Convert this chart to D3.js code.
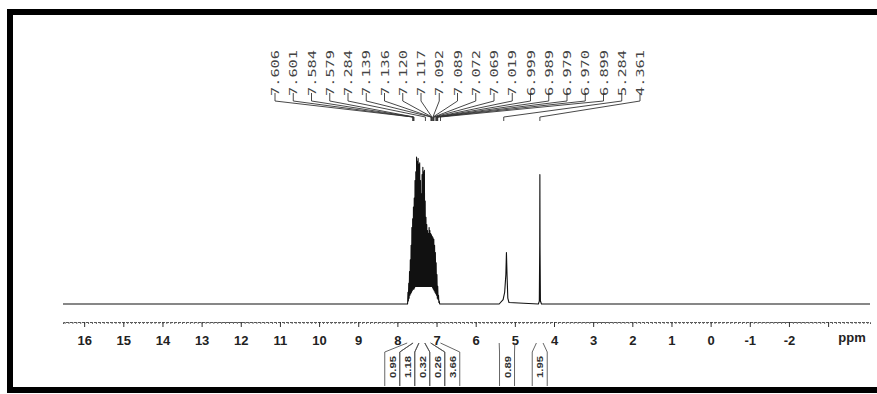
<!DOCTYPE html>
<html>
<head>
<meta charset="utf-8">
<script src="https://cdn.jsdelivr.net/npm/d3@7/dist/d3.min.js"></script>
<style>
  html, body { margin: 0; padding: 0; background: #fff; overflow: hidden; }
  svg { display: block; overflow: hidden; }
</style>
</head>
<body>
<svg id="chart" width="877" height="394"></svg>
<script>
// peak pick labels as printed across the top (ppm)
const peakLabels = ["7.606", "7.601", "7.584", "7.579", "7.284", "7.139", "7.136", "7.120", "7.117",
  "7.092", "7.089", "7.072", "7.069", "7.019", "6.999", "6.989", "6.979", "6.970", "6.899", "5.284", "4.361"];

// spectrum trace: shift (ppm) and relative intensity
const tracePpm = [16.54,
  7.74, 7.73, 7.72, 7.71, 7.70, 7.69, 7.68, 7.67, 7.66, 7.65, 7.64, 7.63, 7.62, 7.61, 7.60, 7.59,
  7.58, 7.57, 7.56, 7.55, 7.54, 7.53, 7.52, 7.51, 7.50, 7.49, 7.48, 7.47, 7.46, 7.45, 7.44, 7.43,
  7.42, 7.41, 7.40, 7.39, 7.38, 7.37, 7.36, 7.35, 7.34, 7.33, 7.32, 7.31, 7.30, 7.29, 7.28, 7.27,
  7.26, 7.25, 7.24, 7.23, 7.22, 7.21, 7.20, 7.19, 7.18, 7.17, 7.16, 7.15, 7.14, 7.13, 7.12, 7.11,
  7.10, 7.09, 7.08, 7.07, 7.06, 7.05, 7.04, 7.03, 7.02, 7.01, 7.00, 6.99, 6.98, 6.97, 6.96, 6.95,
  6.94, 6.93, 6.92,
  5.40, 5.30, 5.26, 5.23, 5.215, 5.20, 5.18, 5.15,
  4.40, 4.375, 4.365, 4.361, 4.357, 4.347, 4.32,
  -4.07];
const traceInt = [0,
  0, 8, 2, 14, 4, 22, 6, 30, 7, 40, 8, 52, 9, 58, 10, 66,
  10, 72, 11, 84, 12, 90, 12, 100, 12, 97, 12, 99, 12, 95, 12, 96,
  12, 84, 12, 75, 12, 88, 12, 93, 12, 90, 12, 91, 12, 70, 12, 59,
  12, 54, 12, 50, 12, 48, 12, 52, 12, 50, 12, 48, 12, 47, 12, 46,
  11, 45, 10, 44, 9, 40, 8, 35, 7, 28, 6, 20, 4, 12, 3, 6,
  1, 2, 0,
  0, 3, 8, 20, 35, 20, 4, 1,
  0, 2, 40, 88, 40, 2, 0,
  0];

// integrals under the axis
const integralValues = ["0.95", "1.18", "0.32", "0.26", "3.66", "0.89", "1.95"];
const integralFrom = [7.75, 7.60, 7.45, 7.30, 7.15, 5.40, 4.45];
const integralTo   = [7.60, 7.45, 7.30, 7.15, 6.90, 5.00, 4.28];

// axis ticks
const majorTicks = [16, 15, 14, 13, 12, 11, 10, 9, 8, 7, 6, 5, 4, 3, 2, 1, 0, -1, -2, -3];
const tickLabels = [16, 15, 14, 13, 12, 11, 10, 9, 8, 7, 6, 5, 4, 3, 2, 1, 0, -1, -2];

const svg = d3.select("#chart");
const baseY = 304, axisY = 322;

const x = d3.scaleLinear().domain([16.54, -4.07]).range([63, 870]);
const y = d3.scaleLinear().domain([0, 100]).range([baseY, 157]);

// frame (its right side runs off the picture)
svg.append("path").attr("d", "M877,12H10V390H877")
  .attr("fill", "none").attr("stroke", "#000").attr("stroke-width", 6);

// spectrum
const trace = tracePpm.map((p, i) => [p, traceInt[i]]);
svg.append("path")
  .datum(trace)
  .attr("fill", "none")
  .attr("stroke", "#111")
  .attr("stroke-width", 1.1)
  .attr("stroke-linejoin", "round")
  .attr("d", d3.line().x(d => x(d[0])).y(d => y(d[1])));

// ruler: minor then major ticks
const minorAxis = d3.axisBottom(x)
  .tickValues(d3.range(-40, 166).map(v => v / 10))
  .tickSize(2).tickFormat("");
svg.append("g").attr("transform", `translate(0,${axisY})`).call(minorAxis)
  .call(g => g.selectAll("line").attr("stroke", "#666"))
  .call(g => g.select(".domain").attr("stroke", "#555").attr("stroke-dasharray", "3,1"));

const majorAxis = d3.axisBottom(x)
  .tickValues(majorTicks).tickSize(5).tickPadding(9)
  .tickFormat(d => tickLabels.includes(d) ? d : "");
svg.append("g").attr("transform", `translate(0,${axisY})`).call(majorAxis)
  .call(g => g.select(".domain").remove())
  .call(g => g.selectAll("line").attr("stroke", "#333"))
  .call(g => g.selectAll("text")
    .attr("font-family", "Liberation Sans, Arial, sans-serif")
    .attr("font-weight", "bold").attr("font-size", 13).attr("fill", "#222"));

svg.append("text").attr("x", 852).attr("y", 342).attr("text-anchor", "middle")
  .attr("font-family", "Liberation Sans, Arial, sans-serif").attr("font-weight", "bold")
  .attr("font-size", 13).attr("fill", "#222").text("ppm");

// peak labels and connectors
const labelStart = 275, labelStep = 18.25;
const peaks = svg.append("g");
peakLabels.forEach((lab, i) => {
  const lx = labelStart + i * labelStep;
  const px = x(+lab);
  peaks.append("text")
    .attr("transform", `translate(${lx + 4},96) rotate(-90)`)
    .attr("font-family", "DejaVu Sans Mono, monospace")
    .attr("font-size", 11).attr("fill", "#444")
    .attr("textLength", 46).attr("lengthAdjust", "spacingAndGlyphs")
    .text(lab);
  peaks.append("path")
    .attr("d", `M${lx},93V101L${px},117V121`)
    .attr("fill", "none").attr("stroke", "#333").attr("stroke-width", 0.9);
});

// integral labels, spread so they do not overlap
const boxW = 15;
const ints = integralValues.map((v, i) => ({
  v, from: integralFrom[i], to: integralTo[i], mid: x((integralFrom[i] + integralTo[i]) / 2)
}));
const groups = [];
ints.forEach(d => {
  const g = groups[groups.length - 1];
  if (g && d.mid - g[g.length - 1].mid < boxW) g.push(d); else groups.push([d]);
});
groups.forEach(g => {
  const c = d3.mean(g, d => d.mid);
  g.forEach((d, k) => d.cx = c + (k - (g.length - 1) / 2) * boxW);
});
const integ = svg.append("g");
ints.forEach(d => {
  const l = d.cx - boxW / 2, r = d.cx + boxW / 2;
  integ.append("path")
    .attr("d", `M${x(d.from)},343L${l},352V386M${x(d.to)},343L${r},352V386`)
    .attr("fill", "none").attr("stroke", "#555").attr("stroke-width", 0.9);
  integ.append("text")
    .attr("transform", `translate(${d.cx + 3.5},378) rotate(-90)`)
    .attr("font-family", "Liberation Sans, Arial, sans-serif").attr("font-weight", "bold")
    .attr("font-size", 9).attr("fill", "#333")
    .attr("textLength", 22).attr("lengthAdjust", "spacingAndGlyphs")
    .text(d.v);
});
</script>
</body>
</html>
